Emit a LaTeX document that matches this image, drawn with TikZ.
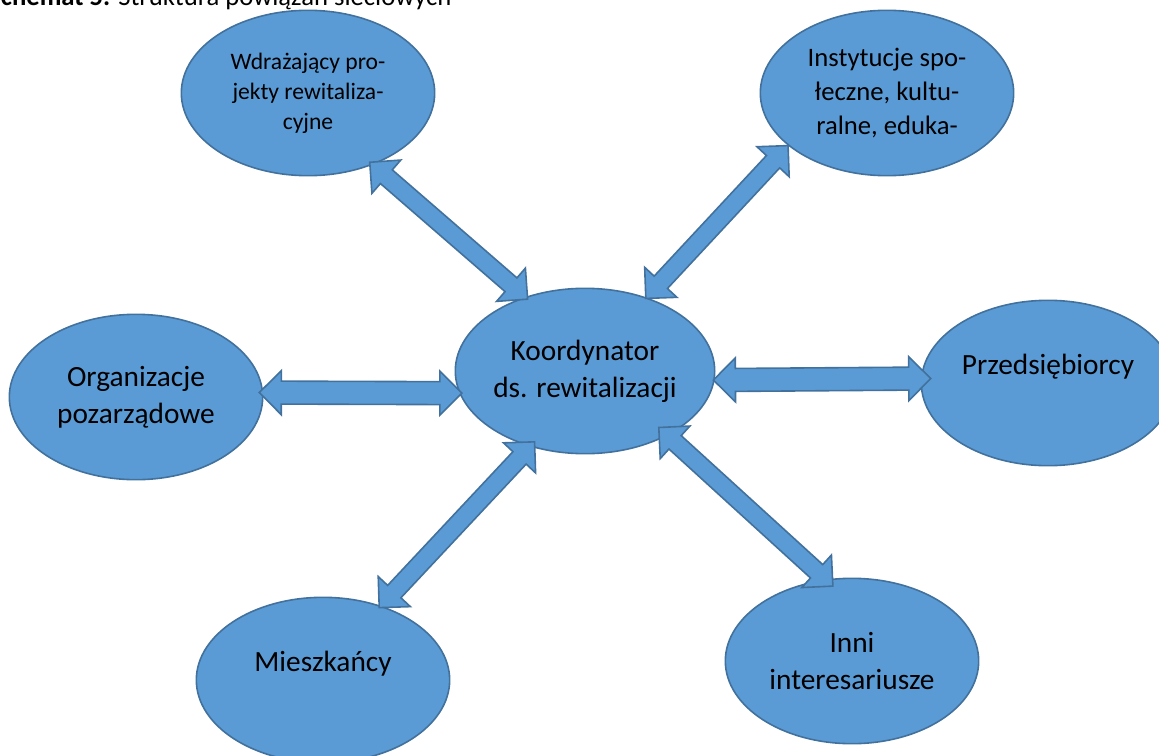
\documentclass[tikz,border=0pt]{standalone}
\usepackage{fontspec}
\setmainfont{Carlito}
\usetikzlibrary{shapes.geometric,calc}

\definecolor{fillblue}{HTML}{5B9BD5}
\definecolor{lineblue}{HTML}{41719C}

\newcommand\bigtxt{\fontsize{22}{27.5}\selectfont}
\newcommand\midtxt{\fontsize{20}{25.5}\selectfont}
\newcommand\smalltxt{\fontsize{17.7}{22.5}\selectfont}
\newcommand\headlen{16.5pt}
\newcommand\headwd{16.5pt}

\tikzset{
  bubble/.style={ellipse, draw=lineblue, fill=fillblue, line width=1.2pt,
    minimum width=190pt, minimum height=124pt, inner sep=0pt, align=center, font=\bigtxt},
  dblarrow/.style={draw=lineblue, fill=fillblue, line width=1.2pt, line join=miter}
}

% #1 half shaft, #2 from, #3 to, #4/#5 gap at from/to
\newcommand\linkarrow[5][6.8pt]{%
  \coordinate (la) at ($(#2)!-#4!(#3)$);
  \coordinate (lb) at ($(#3)!-#5!(#2)$);
  \draw[dblarrow] (la)
    -- ($(la)!\headlen!(lb)!\headwd!90:(lb)$)
    -- ($(la)!\headlen!(lb)!#1!90:(lb)$)
    -- ($(lb)!\headlen!(la)!#1!-90:(la)$)
    -- ($(lb)!\headlen!(la)!\headwd!-90:(la)$)
    -- (lb)
    -- ($(lb)!\headlen!(la)!\headwd!90:(la)$)
    -- ($(lb)!\headlen!(la)!#1!90:(la)$)
    -- ($(la)!\headlen!(lb)!#1!-90:(lb)$)
    -- ($(la)!\headlen!(lb)!\headwd!-90:(lb)$)
    -- cycle;
}

\begin{document}
\begin{tikzpicture}[x=0.75pt, y=-0.75pt]
  \useasboundingbox (0, 0) rectangle (1159, 756);
  \node[anchor=base west, inner sep=0pt, font=\fontsize{20}{24}\selectfont] (title) at (-12, 6)
    {\textbf{Schemat 5.} Struktura powiązań sieciowych};

  \node[bubble, font=\smalltxt] (wdr) at (308, 93) {Wdrażający pro-\\jekty rewitaliza-\\cyjne};
  \node[bubble, font=\midtxt] (ins) at (887, 93) {Instytucje spo-\\łeczne, kultu-\\ralne, eduka-};
  \node[bubble] (koo) at (585, 371) {Koordynator\\ds. rewitalizacji};
  \node[bubble] (org) at (136, 397) {Organizacje\\pozarządowe};
  \node[bubble] (prz) at (1048, 383) {Przedsiębiorcy\\\mbox{}};
  \node[bubble] (mie) at (323, 680) {Mieszkańcy\\\mbox{}};
  \node[bubble] (inn) at (852, 661) {Inni\\interesariusze};

  \linkarrow{wdr.-48}{koo.129}{3pt}{2.6pt}
  \linkarrow{koo.50}{ins.208}{1pt}{0pt}
  \linkarrow[8.6pt]{org.2}{koo.190}{3pt}{2pt}
  \linkarrow[8.6pt]{koo.-4}{prz.178}{1pt}{7.5pt}
  \linkarrow{koo.234}{mie.52}{5pt}{2pt}
  \linkarrow{koo.-38}{inn.108}{9pt}{7.5pt}
\end{tikzpicture}
\end{document}
